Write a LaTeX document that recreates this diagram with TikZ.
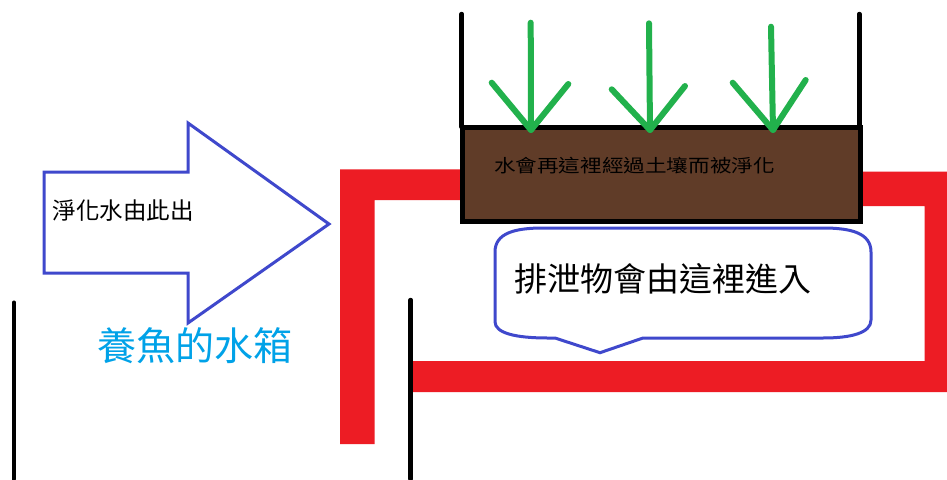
\documentclass[tikz,border=0pt]{standalone}
\usepackage{fontspec}
\newfontfamily\cjk{Noto Sans CJK TC}
\definecolor{pipered}{HTML}{ED1C24}
\definecolor{leafgreen}{HTML}{22B14C}
\definecolor{arrowblue}{HTML}{3F48CC}
\definecolor{soilbrown}{HTML}{603C28}
\definecolor{tanklabel}{HTML}{00A2E8}
\tikzset{
  pipe/.style={fill=pipered, draw=none},
  wall/.style={draw=black, line width=4.5pt, line cap=round},
  sprout/.style={draw=leafgreen, line width=6pt, line cap=round, line join=round},
  blueline/.style={draw=arrowblue, line width=3pt, line join=miter},
  lbl/.style={inner sep=0pt, font=\cjk}
}
\begin{document}
\begin{tikzpicture}[x=1pt,y=-1pt]
\useasboundingbox[fill=white] (0,0) rectangle (947,479);

% red pipe
\fill[pipe] (340,444) -- (340,169.3) -- (462,169.3) -- (462,200) -- (374.5,200) -- (374.5,444) -- cycle;
\fill[pipe] (859,171.7) -- (947,171.7) -- (947,392) -- (412.7,392) -- (412.7,361) -- (924.5,361) -- (924.5,206) -- (859,206) -- cycle;

% tank walls
\draw[wall] (14,302.7) coordinate (lw1) -- (14,479) coordinate (lw2);
\draw[wall] (410.7,300) coordinate (rw1) -- (410.7,479) coordinate (rw2);

% planter walls
\draw[wall] (461.7,14) coordinate (pw1) -- (461.7,127) coordinate (pw2);
\draw[wall] (859.3,14) coordinate (pw3) -- (859.3,127) coordinate (pw4);

% soil box
\draw[fill=soilbrown, draw=black, line width=5pt] (462,127) rectangle (860,221.7);
\node[lbl, text=black] (soiltext) at (634.5,165.5) {\scalebox{1.2}[1]{\fontsize{18}{22}\selectfont 水會再這裡經過土壤而被淨化}};

% green arrows
\draw[sprout] (530.7,22.7) coordinate (g1a) -- (531,130) coordinate (g1t);
\draw[sprout] (491.7,82.7) -- (g1t) -- (568.3,84);
\draw[sprout] (649,23.3) coordinate (g2a) -- (650,130) coordinate (g2t);
\draw[sprout] (611.7,89.3) -- (g2t) -- (685,86);
\draw[sprout] (771,26.7) coordinate (g3a) -- (773,130) coordinate (g3t);
\draw[sprout] (732.7,82.7) -- (g3t) -- (805.7,80);

% blue block arrow
\draw[blueline] (44,172) -- (188,172) -- (188,123) -- (329,224) -- (188,323) -- (188,273) -- (44,273) -- cycle;
\node[lbl] (outtext) at (123,211) {\fontsize{23.5}{28}\selectfont 淨化水由此出};

% callout
\draw[blueline] (495,252) .. controls (495,233) and (515,228) .. (543,228) -- (823,228)
  .. controls (851,228) and (871,233) .. (871,252) -- (871,320)
  .. controls (871,333) and (851,338) .. (823,338) -- (643,338) -- (600,352.7) -- (555,338) -- (548,338)
  .. controls (515,338) and (495,333) .. (495,321.7) -- cycle;
\node[lbl] (intext) at (663,279) {\fontsize{33}{38}\selectfont 排泄物會由這裡進入};

% tank label
\node[lbl, text=tanklabel] (tanktext) at (195,345.5) {\fontsize{39}{44}\selectfont 養魚的水箱};
\end{tikzpicture}
\end{document}
